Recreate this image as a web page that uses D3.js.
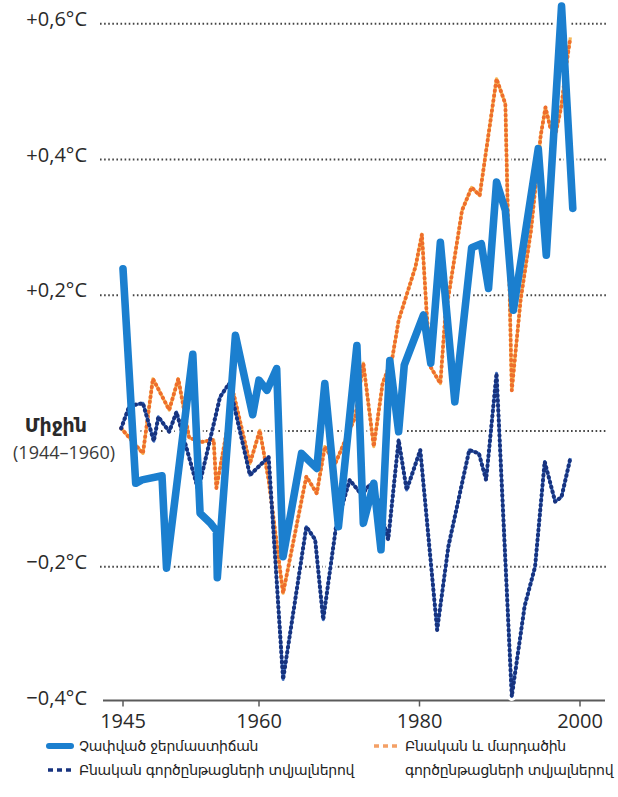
<!DOCTYPE html>
<html><head><meta charset="utf-8">
<script src="https://cdn.jsdelivr.net/npm/d3@7"></script>
<style>body{margin:0;background:#fff}svg{display:block}</style>
</head><body>
<svg id="chart" width="618" height="797"></svg>
<script>
// Observed temperature (thick blue)
const observedYears  = [1945.0,1946.4,1947.1,1949.3,1949.8,1952.7,1953.5,1954.6,1955.3,1955.4,1957.4,1959.3,1960.0,1961.0,1962.2,1963.0,1965.3,1967.2,1968.2,1969.9,1972.2,1973.0,1974.3,1975.2,1976.3,1977.4,1978.1,1980.5,1981.4,1982.6,1984.4,1986.5,1987.7,1988.6,1989.6,1990.7,1991.7,1994.8,1995.8,1997.7,1999.1];
const observedValues = [0.239,-0.077,-0.072,-0.066,-0.202,0.113,-0.121,-0.135,-0.147,-0.216,0.141,0.024,0.075,0.060,0.092,-0.185,-0.033,-0.055,0.070,-0.141,0.126,-0.136,-0.077,-0.175,0.104,-0.001,0.097,0.171,0.100,0.278,0.043,0.270,0.276,0.210,0.367,0.325,0.178,0.416,0.259,0.626,0.328];
// Natural + anthropogenic model (orange dotted)
const combinedYears  = [1944.8,1947.2,1948.3,1950.1,1951.1,1952.3,1953.7,1955.0,1955.3,1957.2,1959.0,1960.1,1961.2,1963.0,1965.9,1967.2,1968.2,1969.5,1972.0,1973.0,1974.3,1975.4,1976.6,1977.4,1979.5,1980.3,1980.9,1981.4,1982.6,1983.2,1985.3,1986.5,1987.5,1989.6,1990.7,1991.5,1992.6,1993.9,1995.1,1995.7,1996.3,1997.0,1997.7,1998.3,1998.8];
const combinedValues = [0.004,-0.033,0.077,0.031,0.077,-0.010,-0.016,-0.013,-0.084,0.055,-0.048,0.001,-0.072,-0.239,-0.067,-0.092,-0.023,-0.048,0.021,0.100,-0.023,0.070,0.107,0.163,0.242,0.290,0.173,0.094,0.070,0.168,0.325,0.359,0.347,0.519,0.482,0.060,0.193,0.296,0.435,0.477,0.447,0.440,0.480,0.540,0.580];
// Natural-only model (navy dotted)
const naturalYears  = [1944.8,1945.7,1947.2,1948.4,1948.9,1950.1,1950.9,1953.3,1955.7,1956.7,1959.0,1961.2,1963.0,1965.9,1967.0,1968.0,1969.6,1971.3,1972.8,1973.8,1974.8,1976.1,1977.4,1978.4,1980.1,1982.2,1983.6,1986.2,1987.4,1988.3,1989.6,1991.5,1993.1,1994.4,1995.6,1996.9,1997.7,1998.8];
const naturalValues = [0.004,0.037,0.041,-0.015,0.021,-0.001,0.028,-0.087,0.050,0.070,-0.065,-0.038,-0.366,-0.141,-0.160,-0.278,-0.141,-0.072,-0.094,-0.079,-0.101,-0.160,-0.013,-0.087,-0.028,-0.293,-0.170,-0.028,-0.033,-0.072,0.085,-0.391,-0.258,-0.200,-0.045,-0.104,-0.097,-0.040];

const yTickValues = [0.6,0.4,0.2,0,-0.2,-0.4];
const yTickLabels = ["+0,6°C","+0,4°C","+0,2°C","Միջին","−0,2°C","−0,4°C"];
const baselineNote = "(1944–1960)";
const xTickValues = [1945,1960,1980,2000];
const seriesNames = ["Չափված ջերմաստիճան","Բնական գործընթացների տվյալներով","Բնական և մարդածին","գործընթացների տվյալներով"];

const svg = d3.select("#chart");
const x = d3.scaleLinear().domain([1945,1960,2000]).range([123,259,580]);
const y = d3.scaleLinear().domain([-0.4,0.6]).range([702.5,23.8]);

const numFont = "'Open Sans', 'Noto Sans', sans-serif";
const armFont = "'DejaVu Sans', sans-serif";

// gridlines
const grid = svg.append("g");
yTickValues.filter(v => v !== -0.4).forEach(v => {
  grid.append("line")
    .attr("x1", v === 0 ? 120 : 100).attr("x2", 606)
    .attr("y1", y(v)).attr("y2", y(v))
    .attr("stroke", "#444").attr("stroke-width", 2)
    .attr("stroke-dasharray", "1.6,2.5");
});

// y labels
yTickValues.forEach((v,i) => {
  const isMean = v === 0;
  svg.append("text")
    .attr("x", 87).attr("y", y(v) + (isMean ? 1 : 2))
    .attr("text-anchor", "end")
    .attr("font-family", isMean ? armFont : numFont)
    .attr("font-size", isMean ? 19 : 20)
    .attr("font-weight", isMean ? "bold" : "normal")
    .attr("fill", "#2a2a2a")
    .text(yTickLabels[i]);
});
svg.append("text")
  .attr("x", 115).attr("y", y(0) + 28)
  .attr("text-anchor", "end")
  .attr("font-family", numFont).attr("font-size", 18)
  .attr("fill", "#3a3a3a")
  .text(baselineNote);

// x axis
const axisY = y(-0.4) - 2;
svg.append("line").attr("x1",103).attr("x2",605).attr("y1",axisY).attr("y2",axisY)
  .attr("stroke","#5a5a5a").attr("stroke-width",2);
xTickValues.forEach(t => {
  svg.append("line").attr("x1",x(t)).attr("x2",x(t)).attr("y1",axisY).attr("y2",axisY+6)
    .attr("stroke","#5a5a5a").attr("stroke-width",1.5);
  svg.append("text").attr("x",x(t)).attr("y",axisY+27)
    .attr("text-anchor","middle").attr("font-family",numFont).attr("font-size",20)
    .attr("fill","#2a2a2a").text(t);
});

const line = d3.line().x(d => x(d[0])).y(d => y(d[1]));
const observed = d3.zip(observedYears, observedValues);
const combined = d3.zip(combinedYears, combinedValues);
const natural  = d3.zip(naturalYears, naturalValues);

const plot = svg.append("g");
// white casings
[[combined,9],[natural,9],[observed,13]].forEach(([d,w]) => {
  plot.append("path").attr("d", line(d)).attr("fill","none")
    .attr("stroke","#fff").attr("stroke-width",w)
    .attr("stroke-linejoin","round").attr("stroke-linecap","round");
});
// orange dotted
plot.append("path").attr("d", line(combined)).attr("fill","none")
  .attr("stroke","#f6b85a").attr("stroke-width",3.2).attr("stroke-linejoin","round");
plot.append("path").attr("d", line(combined)).attr("fill","none")
  .attr("stroke","#ee6e2c").attr("stroke-width",3.9)
  .attr("stroke-dasharray","0.4,4.6").attr("stroke-linecap","round").attr("stroke-linejoin","round");
// navy dotted
plot.append("path").attr("d", line(natural)).attr("fill","none")
  .attr("stroke","#4271c2").attr("stroke-width",3).attr("stroke-linejoin","round");
plot.append("path").attr("d", line(natural)).attr("fill","none")
  .attr("stroke","#17337f").attr("stroke-width",4.1)
  .attr("stroke-dasharray","0.4,4.6").attr("stroke-linecap","round").attr("stroke-linejoin","round");
// observed thick blue
plot.append("path").attr("d", line(observed)).attr("fill","none")
  .attr("stroke","#1b7fcf").attr("stroke-width",7.6)
  .attr("stroke-linejoin","round").attr("stroke-linecap","round");

// legend
const lg = svg.append("g");
const row1 = 746, row2 = 770;
lg.append("line").attr("x1",49).attr("x2",71).attr("y1",row1).attr("y2",row1)
  .attr("stroke","#1b7fcf").attr("stroke-width",6).attr("stroke-linecap","round");
lg.append("line").attr("x1",48).attr("x2",72).attr("y1",row2).attr("y2",row2)
  .attr("stroke","#17337f").attr("stroke-width",3.5).attr("stroke-dasharray","5,4");
lg.append("line").attr("x1",374).attr("x2",398).attr("y1",row1).attr("y2",row1)
  .attr("stroke","#f4a066").attr("stroke-width",3.5).attr("stroke-dasharray","5,4");
const legendText = [[79,row1,seriesNames[0]],[79,row2,seriesNames[1]],[405,row1,seriesNames[2]],[405,row2,seriesNames[3]]];
legendText.forEach(([lx,ly,t]) => {
  lg.append("text").attr("x",lx).attr("y",ly+5)
    .attr("font-family",armFont).attr("font-size",14).attr("letter-spacing",-0.25)
    .attr("fill","#222").text(t);
});
</script>
</body></html>
